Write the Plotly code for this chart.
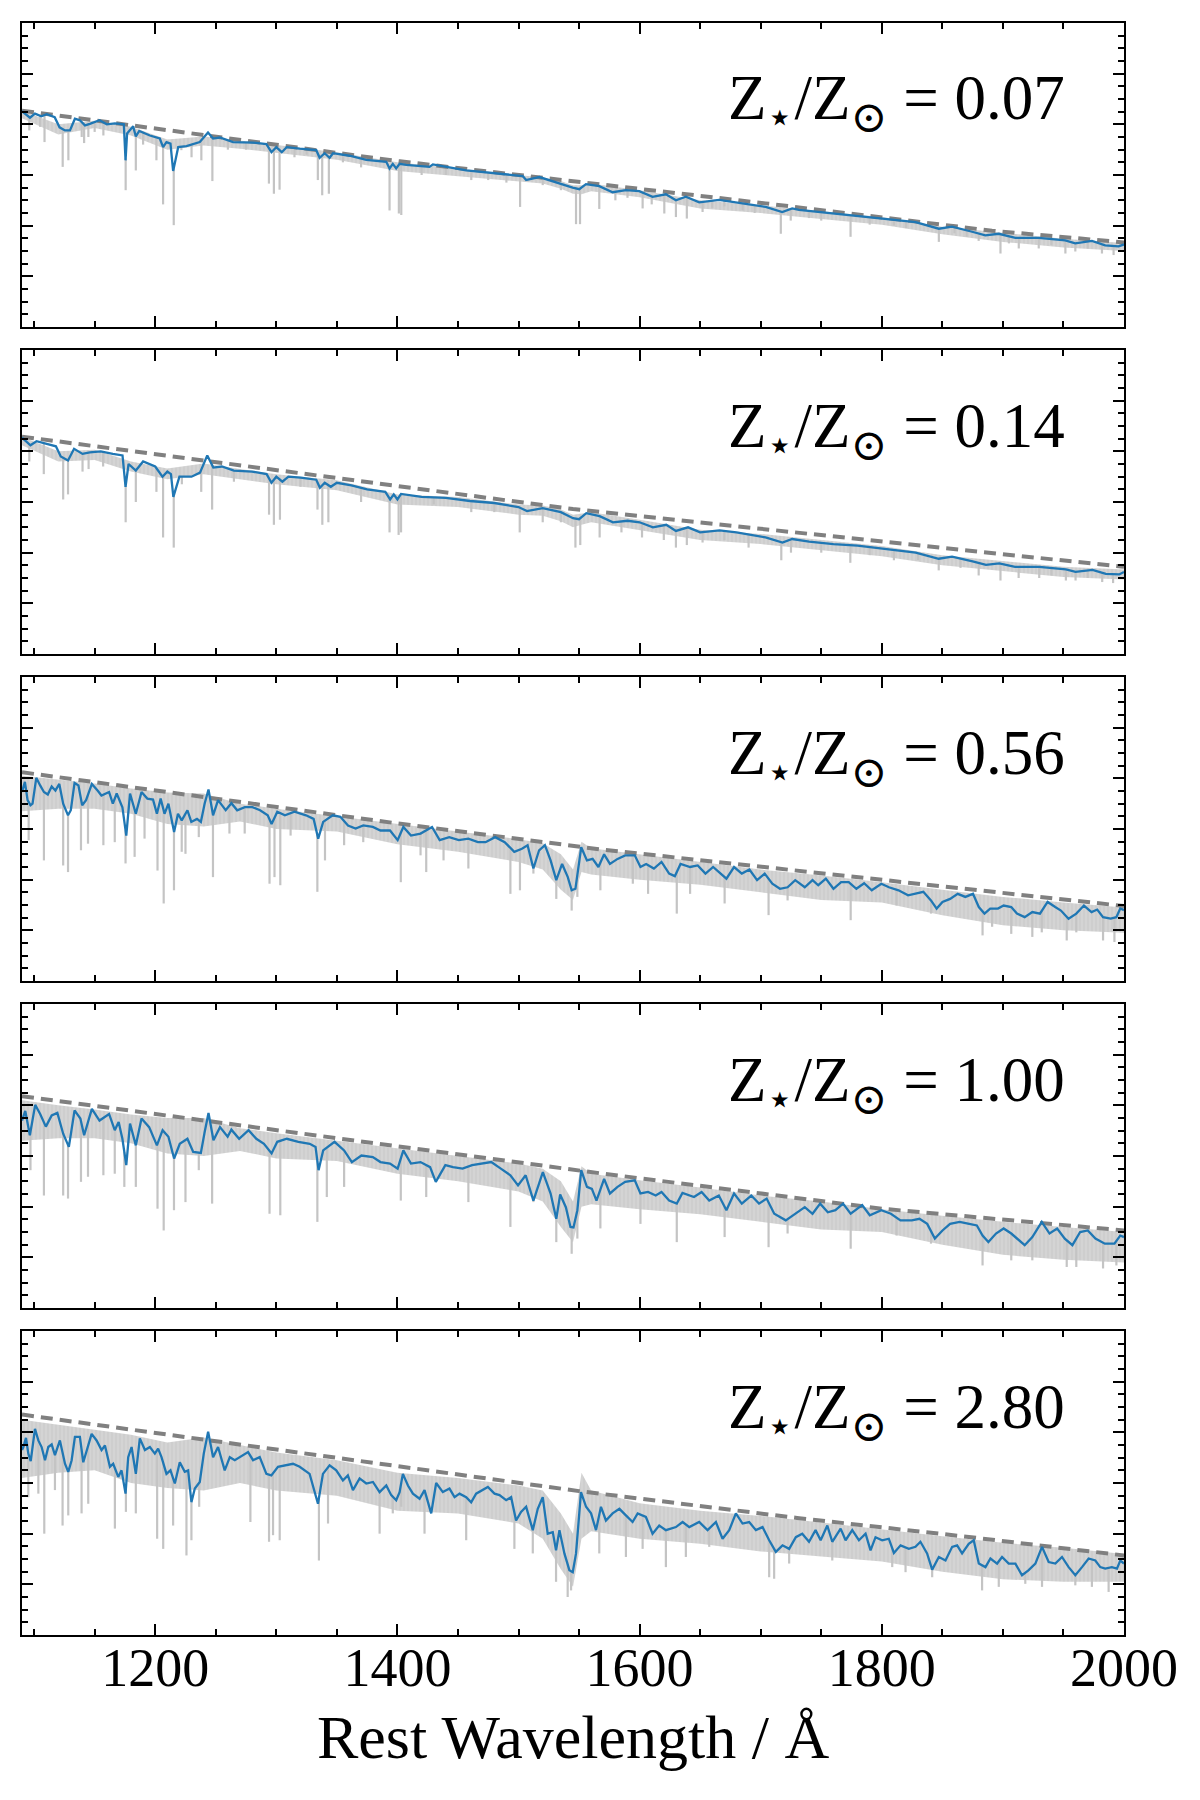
import numpy as np
import plotly.graph_objects as go

# ---------------- data ----------------
wl_range = [1090, 2000]
x_ticks = [1200, 1400, 1600, 1800, 2000]
z_labels = ["0.07", "0.14", "0.56", "1.00", "2.80"]

# smoothed spectra (wavelength [A], flux [arbitrary])
p1_blue = [(1090, 4.26), (1096.6, 4.13), (1100.7, 4.21), (1106, 4.16), (1110.4, 4.20), (1117, 4.14), (1121, 3.94),
           (1125.5, 3.88), (1129.6, 3.88), (1133.7, 4.11), (1137.8, 4.08), (1142, 3.98), (1146, 4.01), (1154, 4.08),
           (1160, 4.0), (1166.7, 4.02), (1174.1, 4.0), (1175.5, 3.29), (1176.8, 3.82), (1181.8, 3.96), (1184, 3.76),
           (1186.8, 3.87), (1195.6, 3.78), (1203.8, 3.72), (1206.5, 3.55), (1209.3, 3.65), (1212.6, 3.62),
           (1214.8, 3.08), (1216.8, 3.3), (1219, 3.55), (1225.8, 3.57), (1236.8, 3.65), (1243.6, 3.84),
           (1247.8, 3.72), (1253.3, 3.74), (1264.3, 3.65), (1280.8, 3.64), (1291.8, 3.61), (1296, 3.45), (1300, 3.55),
           (1304.5, 3.45), (1308.6, 3.55), (1319.3, 3.52), (1333, 3.49), (1335.8, 3.34), (1339.9, 3.43), (1344, 3.34),
           (1346.8, 3.43), (1360.5, 3.38), (1374.3, 3.30), (1390.8, 3.26), (1393.5, 3.13), (1396.2, 3.22),
           (1399, 3.13), (1401.8, 3.22), (1407.3, 3.20), (1426.5, 3.16), (1429.3, 3.21), (1456.8, 3.09),
           (1484.3, 3.03), (1503.5, 2.98), (1506.3, 2.90), (1517.2, 2.96), (1544.7, 2.75), (1550.2, 2.72),
           (1555.7, 2.82), (1566.7, 2.78), (1577.7, 2.66), (1588.7, 2.70), (1599.7, 2.68), (1610.7, 2.57),
           (1621.7, 2.62), (1630, 2.50), (1638.2, 2.57), (1649.2, 2.46), (1665.6, 2.51), (1676.6, 2.47),
           (1704.1, 2.37), (1717.8, 2.27), (1726, 2.34), (1731.6, 2.31), (1759.1, 2.24), (1775.6, 2.21),
           (1800.4, 2.14), (1827.9, 2.07), (1847.1, 1.94), (1858, 1.98), (1874.6, 1.88), (1885.5, 1.81),
           (1896.6, 1.84), (1910.3, 1.76), (1929.6, 1.76), (1951.5, 1.71), (1959.7, 1.65), (1973.5, 1.70),
           (1984.5, 1.61), (1995.5, 1.59), (2000, 1.63)]

p2_blue = [(1090, 4.27), (1097, 4.12), (1102, 4.2), (1110, 4.15), (1118, 4.1), (1122, 3.9), (1128, 3.82), (1133, 4.05),
           (1140, 3.95), (1146, 3.98), (1155, 4.0), (1165, 3.95), (1173, 3.92), (1175.5, 3.3), (1178, 3.75),
           (1184, 3.62), (1190, 3.8), (1200, 3.7), (1206, 3.5), (1210, 3.6), (1213, 3.55), (1215, 3.1), (1217, 3.25),
           (1220, 3.5), (1230, 3.5), (1237, 3.58), (1243, 3.92), (1248, 3.68), (1255, 3.7), (1265, 3.62), (1280, 3.6),
           (1292, 3.55), (1296, 3.38), (1300, 3.5), (1305, 3.4), (1310, 3.5), (1320, 3.48), (1333, 3.44),
           (1336, 3.28), (1340, 3.38), (1345, 3.3), (1350, 3.38), (1362, 3.33), (1375, 3.25), (1390, 3.2),
           (1394, 3.05), (1397, 3.15), (1400, 3.05), (1403, 3.16), (1420, 3.1), (1440, 3.08), (1460, 3.02),
           (1480, 2.98), (1500, 2.9), (1507, 2.82), (1520, 2.88), (1535, 2.8), (1545, 2.68), (1550, 2.66),
           (1556, 2.78), (1567, 2.72), (1578, 2.6), (1590, 2.63), (1600, 2.6), (1611, 2.5), (1622, 2.55), (1630, 2.43),
           (1640, 2.5), (1650, 2.4), (1666, 2.44), (1680, 2.4), (1704, 2.3), (1718, 2.2), (1726, 2.27), (1740, 2.22),
           (1760, 2.17), (1780, 2.14), (1800, 2.08), (1828, 2.0), (1847, 1.88), (1858, 1.92), (1875, 1.83),
           (1886, 1.76), (1897, 1.79), (1910, 1.72), (1930, 1.72), (1952, 1.67), (1960, 1.62), (1974, 1.66),
           (1985, 1.58), (1996, 1.57), (2000, 1.62)]

p3_blue = [(1090, 3.73), (1092.4, 3.93), (1094.6, 3.57), (1097, 3.47), (1098.7, 3.50), (1101.8, 4.01), (1105, 3.86),
           (1108.1, 3.73), (1111.3, 3.68), (1114.5, 3.84), (1117.6, 3.76), (1120.8, 3.89), (1124, 3.50), (1128, 3.27),
           (1130.3, 3.37), (1133.4, 3.91), (1136.6, 3.86), (1139.7, 3.47), (1142.9, 3.57), (1147.7, 3.89),
           (1152.4, 3.76), (1155.6, 3.66), (1161.9, 3.73), (1165, 3.50), (1168.2, 3.70), (1172.9, 3.43),
           (1176.1, 2.87), (1179.2, 3.70), (1184, 3.30), (1188.7, 3.73), (1193.5, 3.60), (1198.2, 3.58),
           (1201.4, 3.30), (1204.5, 3.60), (1207.7, 3.30), (1210.9, 3.50), (1215.6, 2.94), (1218.8, 3.30),
           (1221.9, 3.17), (1226.6, 3.37), (1229.8, 3.14), (1234.5, 3.20), (1237.7, 3.14), (1240.8, 3.50),
           (1244, 3.78), (1247.8, 3.27), (1251.9, 3.57), (1258.2, 3.37), (1262.9, 3.51), (1267.7, 3.37), (1274, 3.43),
           (1280.3, 3.43), (1286.6, 3.37), (1292.9, 3.27), (1296.1, 3.10), (1300.8, 3.34), (1307.1, 3.27),
           (1315, 3.34), (1324.5, 3.27), (1330.8, 3.20), (1334.6, 2.81), (1338.7, 3.14), (1346.6, 3.27),
           (1352.9, 3.24), (1359.2, 3.07), (1365.5, 3.01), (1371.8, 3.07), (1379.7, 3.04), (1386, 2.97),
           (1393.9, 2.97), (1400.2, 2.78), (1404.9, 3.04), (1411.2, 2.87), (1419.1, 2.91), (1428.6, 3.04),
           (1434.9, 2.78), (1442.8, 2.84), (1450.7, 2.78), (1458.6, 2.81), (1466.5, 2.74), (1472.8, 2.74),
           (1480.7, 2.84), (1488.6, 2.74), (1496.5, 2.55), (1502.8, 2.61), (1507.5, 2.68), (1512.3, 2.22),
           (1517, 2.58), (1521.8, 2.68), (1526.5, 2.38), (1531.2, 1.99), (1536, 2.31), (1540.7, 2.05),
           (1543.9, 1.79), (1547, 1.82), (1551.8, 2.64), (1556.5, 2.38), (1561.2, 2.41), (1566, 2.25),
           (1570.7, 2.50), (1575.5, 2.31), (1581.8, 2.41), (1588.1, 2.48), (1596, 2.48), (1600.7, 2.25),
           (1605.4, 2.31), (1611.8, 2.22), (1618.1, 2.35), (1624.4, 2.12), (1629.1, 2.07), (1633.8, 2.31),
           (1641.7, 2.25), (1648, 2.28), (1654.4, 2.12), (1660.7, 2.25), (1665.4, 2.15), (1671.7, 2.02), (1678, 2.25),
           (1684.4, 2.12), (1690.7, 2.20), (1697, 1.99), (1703.3, 2.12), (1709.6, 1.92), (1715.9, 1.82),
           (1722.2, 1.85), (1728.5, 1.99), (1736.4, 1.85), (1742.8, 1.99), (1747.5, 1.89), (1753.8, 2.02),
           (1760.1, 1.82), (1766.4, 1.95), (1772.7, 1.95), (1779, 1.82), (1785.4, 1.93), (1791.7, 1.79),
           (1799.6, 1.92), (1805.9, 1.85), (1813.8, 1.79), (1821.7, 1.69), (1828, 1.72), (1834.3, 1.76),
           (1840.6, 1.59), (1845.3, 1.43), (1850.1, 1.56), (1856.4, 1.62), (1862.7, 1.72), (1869, 1.66),
           (1875.3, 1.72), (1880.1, 1.46), (1884.8, 1.33), (1889.5, 1.43), (1895.9, 1.43), (1900.6, 1.49),
           (1906.9, 1.46), (1911.6, 1.33), (1918, 1.26), (1924.3, 1.36), (1930.6, 1.33), (1936.9, 1.56),
           (1943.2, 1.46), (1947.9, 1.39), (1954.2, 1.23), (1960.6, 1.33), (1966.9, 1.49), (1973.2, 1.36),
           (1977.9, 1.41), (1982.7, 1.26), (1989, 1.23), (1993.7, 1.26), (1996.9, 1.43), (2000, 1.40)]

p4_blue = [(1090, 3.70), (1092.7, 3.89), (1096.5, 3.41), (1100.9, 4.01), (1105, 3.83), (1109.7, 3.58), (1114.5, 3.80),
           (1119.2, 3.85), (1124, 3.44), (1128.7, 3.18), (1133.4, 3.90), (1138.2, 3.74), (1141.3, 3.41),
           (1147.7, 3.93), (1154, 3.70), (1161.9, 3.83), (1166.6, 3.51), (1169.8, 3.67), (1172.9, 3.34),
           (1176.1, 2.82), (1179.2, 3.64), (1184, 3.21), (1188.7, 3.74), (1195, 3.57), (1201.4, 3.21), (1206.1, 3.51),
           (1210.9, 3.38), (1215.6, 2.95), (1220.3, 3.24), (1226.6, 3.34), (1231.4, 3.08), (1237.7, 3.06),
           (1240.8, 3.47), (1244, 3.85), (1248.1, 3.31), (1253.5, 3.57), (1259.8, 3.38), (1262.9, 3.52),
           (1269.3, 3.34), (1277.1, 3.51), (1283.5, 3.34), (1289.8, 3.24), (1296.1, 3.05), (1300.8, 3.28),
           (1308.7, 3.34), (1318.2, 3.28), (1327.6, 3.24), (1332.4, 3.18), (1334.9, 2.72), (1338.7, 3.11),
           (1348.1, 3.28), (1356, 3.11), (1362.4, 2.88), (1370.3, 3.01), (1379.7, 2.98), (1386, 2.88),
           (1393.9, 2.85), (1400.2, 2.75), (1404.9, 3.11), (1411.2, 2.85), (1419.1, 2.88), (1427, 2.78),
           (1431.7, 2.49), (1439.6, 2.82), (1445.9, 2.78), (1453.8, 2.75), (1461.7, 2.82), (1469.6, 2.85),
           (1477.5, 2.88), (1485.4, 2.75), (1493.3, 2.62), (1499.6, 2.42), (1505.9, 2.62), (1512.3, 2.12),
           (1520.1, 2.68), (1526.5, 2.26), (1531.2, 1.76), (1534.4, 2.24), (1539.1, 1.99), (1542.9, 1.60),
           (1545.4, 1.59), (1548.6, 1.93), (1551.8, 2.72), (1556.5, 2.39), (1560.6, 2.35), (1564.4, 2.12),
           (1570.7, 2.55), (1575.5, 2.26), (1581.8, 2.39), (1588.1, 2.49), (1596, 2.52), (1600.7, 2.26),
           (1607, 2.29), (1613.3, 2.22), (1618.1, 2.29), (1624.4, 2.12), (1630.7, 2.06), (1635.4, 2.27),
           (1644.9, 2.19), (1651.2, 2.29), (1657.5, 2.12), (1665.4, 2.22), (1671.7, 1.93), (1678, 2.26),
           (1684.4, 2.06), (1692.2, 2.22), (1698.6, 2.06), (1704.9, 2.16), (1711.2, 1.86), (1720.7, 1.73),
           (1728.5, 1.86), (1736.4, 1.99), (1742.8, 1.86), (1749.1, 2.06), (1755.4, 1.89), (1761.7, 1.93),
           (1768, 2.06), (1774.3, 1.86), (1783.8, 2.03), (1790.1, 1.83), (1799.6, 1.93), (1807.5, 1.86),
           (1815.4, 1.73), (1824.8, 1.73), (1831.1, 1.76), (1837.5, 1.66), (1843.8, 1.37), (1850.1, 1.53),
           (1856.4, 1.66), (1864.3, 1.70), (1872.2, 1.66), (1878.5, 1.63), (1883.2, 1.43), (1888, 1.30),
           (1894.3, 1.47), (1900.6, 1.57), (1906.9, 1.47), (1913.2, 1.34), (1918, 1.24), (1924.3, 1.40),
           (1932.1, 1.70), (1938.5, 1.47), (1944.8, 1.57), (1951.1, 1.37), (1957.4, 1.24), (1963.8, 1.50),
           (1970.1, 1.53), (1976.4, 1.37), (1984.2, 1.27), (1992.1, 1.27), (1996.9, 1.43), (2000, 1.40)]

p5_blue = [(1090, 3.65), (1091.1, 3.71), (1093.3, 3.89), (1095.2, 3.58), (1097.2, 3.43), (1099.4, 3.78), (1100.7, 4.07),
           (1103.5, 3.84), (1106.2, 3.71), (1109, 3.45), (1111.7, 3.71), (1114.5, 3.76), (1117.2, 3.55),
           (1121.3, 3.84), (1125.5, 3.38), (1128.2, 3.22), (1131, 3.45), (1133.7, 3.91), (1137.8, 3.91),
           (1140.6, 3.41), (1143.3, 3.65), (1147.5, 3.97), (1151.6, 3.84), (1155.7, 3.65), (1158.5, 3.74),
           (1162.6, 3.32), (1165.3, 3.38), (1169.5, 3.12), (1172.2, 3.25), (1175.5, 2.79), (1177.7, 3.51),
           (1180.5, 3.71), (1184, 3.18), (1187.3, 3.88), (1191.5, 3.65), (1195.6, 3.71), (1199.7, 3.58),
           (1202.4, 3.68), (1205.2, 3.51), (1209.3, 3.18), (1212.6, 3.25), (1216.2, 2.99), (1220.3, 3.41),
           (1224.4, 3.22), (1227.2, 3.25), (1229.9, 2.62), (1232.7, 2.89), (1236.8, 3.02), (1240.1, 3.58),
           (1243.7, 4.01), (1247.8, 3.51), (1251.9, 3.71), (1257.4, 3.25), (1261.6, 3.51), (1265.7, 3.45),
           (1269.8, 3.51), (1276.7, 3.61), (1280.8, 3.45), (1286.3, 3.51), (1291.8, 3.18), (1295.9, 3.15),
           (1301.4, 3.32), (1306.9, 3.35), (1313.8, 3.38), (1319.3, 3.32), (1327.5, 3.18), (1334.4, 2.59),
           (1338.5, 3.18), (1344, 3.35), (1349.5, 3.25), (1355, 3.05), (1359.1, 3.15), (1363.3, 2.86),
           (1368.8, 3.09), (1374.3, 2.99), (1379.8, 3.02), (1385.3, 2.82), (1390.8, 2.95), (1394.9, 2.76),
           (1399, 2.66), (1401.8, 2.82), (1404.5, 3.18), (1408.7, 2.95), (1412.8, 2.79), (1418.3, 2.69),
           (1422.4, 2.86), (1427.9, 2.40), (1432, 3.0), (1437.5, 2.82), (1443, 2.89), (1447.2, 2.72), (1451.3, 2.79),
           (1456.8, 2.72), (1460.9, 2.62), (1465, 2.79), (1470.5, 2.86), (1474.7, 2.92), (1480.2, 2.79),
           (1484.3, 2.76), (1489.8, 2.66), (1493.9, 2.72), (1498, 2.26), (1502.1, 2.43), (1506.3, 2.53),
           (1511.8, 2.07), (1515.9, 2.49), (1520, 2.72), (1524.1, 2.0), (1528.3, 2.03), (1531, 1.67), (1533.8, 2.07),
           (1537.9, 1.61), (1542, 1.28), (1544.8, 1.24), (1547.5, 1.61), (1551.6, 2.82), (1555.8, 2.53),
           (1559.9, 2.40), (1564, 2.07), (1568.1, 2.53), (1572.2, 2.26), (1577.7, 2.40), (1583.3, 2.49),
           (1588.7, 2.36), (1594.2, 2.23), (1598.4, 2.40), (1605.2, 2.33), (1610.7, 2.0), (1616.2, 2.16),
           (1621.7, 2.07), (1630, 2.13), (1635.5, 2.23), (1641, 2.13), (1649.2, 2.23), (1656.1, 2.07), (1663, 2.23),
           (1668.5, 1.90), (1674, 2.07), (1679.5, 2.40), (1685, 2.20), (1690.5, 2.23), (1696, 2.07), (1701.5, 2.13),
           (1707, 1.87), (1712.5, 1.64), (1718, 1.77), (1723.5, 1.70), (1729, 1.93), (1734.3, 2.0), (1739.9, 1.84),
           (1745.3, 2.07), (1749.5, 1.87), (1755, 2.16), (1759.1, 1.84), (1766, 2.10), (1770.1, 1.87), (1775.6, 2.07),
           (1781.1, 1.87), (1786.6, 2.0), (1790.7, 1.67), (1794.8, 1.93), (1800.3, 1.87), (1805.8, 1.90),
           (1810, 1.62), (1815.5, 1.77), (1822.3, 1.70), (1827.8, 1.74), (1831.9, 1.84), (1837.4, 1.61),
           (1841.6, 1.29), (1847.1, 1.54), (1852.6, 1.47), (1858.1, 1.74), (1862.2, 1.77), (1866.3, 1.61),
           (1871.8, 1.80), (1875.9, 1.87), (1880.1, 1.41), (1885.6, 1.34), (1889.7, 1.51), (1895.2, 1.41),
           (1899.3, 1.54), (1904.8, 1.41), (1910.3, 1.41), (1915.8, 1.18), (1921.3, 1.28), (1926.8, 1.41),
           (1932.3, 1.74), (1937.8, 1.44), (1943.3, 1.41), (1948.8, 1.54), (1954.3, 1.34), (1959.8, 1.18),
           (1965.3, 1.34), (1970.8, 1.51), (1976.3, 1.47), (1980.4, 1.34), (1984.5, 1.31), (1990, 1.34),
           (1994.2, 1.31), (1996.9, 1.47), (2000, 1.41)]

# absorption-line minima of the full-resolution spectra (wavelength, flux)
p1_dips = [(1096, 3.88), (1105, 3.95), (1108.6, 3.65), (1123.6, 3.16), (1128.3, 3.29), (1139.3, 3.75), (1141.3, 3.63),
           (1144.8, 3.75), (1150, 3.85), (1157.2, 3.78), (1175.6, 2.70), (1184, 3.09), (1190, 3.6), (1201, 3.29),
           (1206.5, 2.42), (1215.3, 2.01), (1221.6, 3.49), (1230, 3.35), (1238.1, 3.29), (1247.2, 2.88), (1260, 3.5),
           (1275, 3.5), (1293.9, 2.83), (1298, 2.63), (1302.7, 2.71), (1315, 3.35), (1325, 3.4), (1334.3, 2.90),
           (1337.9, 2.60), (1343.4, 2.63), (1355, 3.25), (1370, 3.15), (1393.5, 2.30), (1401.2, 2.24),
           (1403.2, 2.21), (1420, 3.0), (1440, 3.0), (1461, 2.9), (1475, 2.9), (1490, 2.85), (1501.3, 2.37),
           (1520, 2.8), (1535, 2.7), (1547.5, 2.03), (1550.8, 2.03), (1566.7, 2.33), (1580, 2.5), (1590, 2.55),
           (1602.5, 2.34), (1610, 2.42), (1620.4, 2.24), (1630, 2.17), (1639, 2.14), (1652, 2.27), (1660, 2.35),
           (1670, 2.38), (1685, 2.3), (1695, 2.25), (1716.6, 1.84), (1724.8, 2.10), (1740, 2.15), (1750, 2.1),
           (1774.2, 1.78), (1790, 2.02), (1810, 2.0), (1820, 1.95), (1847.1, 1.68), (1860, 1.85), (1870, 1.78),
           (1880, 1.70), (1898, 1.45), (1905, 1.65), (1913.1, 1.55), (1929.6, 1.55), (1940, 1.62), (1951.6, 1.45),
           (1959.8, 1.49), (1970, 1.55), (1981.8, 1.45), (1991.4, 1.42)]

p2_dips = [(1096, 3.8), (1108, 3.55), (1124, 3.05), (1128, 3.15), (1140, 3.6), (1145, 3.65), (1157, 3.7),
           (1175.6, 2.6), (1184, 3.0), (1201, 3.2), (1206.5, 2.3), (1215.3, 2.1), (1222, 3.35), (1238, 3.2),
           (1247, 2.85), (1265, 3.4), (1294, 2.75), (1298, 2.55), (1303, 2.65), (1320, 3.3), (1334, 2.85),
           (1338, 2.55), (1343, 2.6), (1370, 3.0), (1393.5, 2.4), (1401, 2.35), (1403, 2.4), (1430, 2.95),
           (1461, 2.8), (1480, 2.8), (1501, 2.4), (1520, 2.6), (1535, 2.6), (1547, 2.1), (1551, 2.15), (1567, 2.3),
           (1585, 2.4), (1602, 2.3), (1620, 2.25), (1630, 2.1), (1639, 2.15), (1652, 2.2), (1670, 2.25),
           (1690, 2.1), (1717, 1.85), (1725, 2.0), (1750, 2.0), (1774, 1.8), (1790, 1.95), (1810, 1.85),
           (1830, 1.85), (1847, 1.65), (1865, 1.7), (1880, 1.55), (1898, 1.45), (1913, 1.5), (1930, 1.5),
           (1940, 1.55), (1952, 1.45), (1960, 1.45), (1970, 1.5), (1982, 1.42), (1991, 1.4)]

p3_dips = [(1095.5, 2.78), (1108.1, 2.38), (1124, 2.28), (1128, 2.15), (1138.7, 2.58), (1144.5, 2.71),
           (1157.2, 2.68), (1166.6, 2.74), (1175.5, 2.32), (1183, 2.45), (1191.2, 2.81), (1201.9, 2.18),
           (1207, 1.53), (1215.5, 1.79), (1221.9, 2.55), (1225, 2.51), (1236, 2.84), (1247.7, 2.05), (1261.3, 2.91),
           (1273.9, 2.91), (1294.4, 1.92), (1298.5, 2.05), (1303.3, 1.89), (1311.8, 2.87), (1333.9, 1.76),
           (1340.2, 2.38), (1356, 2.68), (1371.8, 2.74), (1402.8, 1.95), (1419.1, 2.48), (1423.8, 2.15),
           (1438.1, 2.38), (1458.6, 2.22), (1493.3, 1.72), (1501.2, 1.79), (1512.3, 2.12), (1531.2, 1.62),
           (1543.9, 1.39), (1548.6, 1.66), (1567.6, 1.79), (1594.4, 1.92), (1607, 1.72), (1630.7, 1.33),
           (1641.7, 1.72), (1670.2, 1.53), (1706.5, 1.30), (1722.2, 1.59), (1774.3, 1.20), (1812.2, 1.49),
           (1840.6, 1.33), (1883.2, 0.90), (1891.1, 1.07), (1906.9, 0.93), (1924.3, 0.87), (1932.1, 0.96),
           (1952.7, 0.80), (1960.6, 0.96), (1982.7, 0.80), (1992.1, 0.77)]

p4_dips = [(1097, 2.72), (1108.1, 2.22), (1124, 2.22), (1128, 2.16), (1138.7, 2.49), (1144.5, 2.59), (1157.2, 2.62),
           (1166.6, 2.65), (1174.5, 2.39), (1184, 2.39), (1201.9, 1.96), (1207, 1.53), (1215.5, 1.93), (1225, 2.09),
           (1236, 2.72), (1247, 2.06), (1294.4, 1.86), (1303.3, 1.83), (1333.9, 1.70), (1341.7, 2.19), (1356, 2.39),
           (1402.8, 2.12), (1423.8, 2.19), (1458.6, 2.09), (1493.3, 1.60), (1512.3, 2.09), (1531.2, 1.30),
           (1543.9, 1.07), (1548.6, 1.37), (1567.6, 1.57), (1600.7, 1.66), (1630.7, 1.30), (1670.2, 1.40),
           (1706.5, 1.20), (1722.2, 1.47), (1774.3, 1.17), (1812.2, 1.43), (1840.6, 1.27), (1883.2, 0.84),
           (1906.9, 0.94), (1924.3, 0.94), (1952.7, 0.81), (1960.6, 0.81), (1982.7, 0.78), (1993.7, 0.84)]

p5_dips = [(1095.2, 2.72), (1103.5, 2.79), (1108.4, 2.0), (1117.2, 2.86), (1123.5, 2.16), (1128.2, 2.36),
           (1139.2, 2.40), (1144.7, 2.59), (1166.7, 2.10), (1175.8, 2.43), (1184, 2.40), (1201.6, 1.90),
           (1206.6, 1.70), (1214.8, 2.16), (1225.8, 1.57), (1229.9, 1.87), (1236.3, 2.53), (1278.6, 2.23),
           (1294, 1.84), (1297.3, 1.97), (1302.8, 1.87), (1335.2, 1.47), (1342.7, 2.20), (1385.3, 2.0),
           (1396.2, 2.40), (1403.2, 2.53), (1422.4, 2.0), (1456.8, 1.87), (1496.6, 1.70), (1511.8, 1.61),
           (1531, 1.05), (1540.6, 0.75), (1543.4, 0.88), (1566.7, 1.61), (1588.7, 1.54), (1602.5, 1.70),
           (1621.7, 1.34), (1638.2, 1.54), (1657.5, 1.74), (1707, 1.14), (1711.1, 1.11), (1723.5, 1.41),
           (1759.1, 1.47), (1808.6, 1.34), (1819.6, 1.24), (1841.6, 1.14), (1882.8, 0.88), (1896.6, 0.95),
           (1918.5, 1.01), (1932.3, 0.95), (1959.8, 0.98), (1973.5, 0.95), (1987.3, 0.85)]

# envelope of the dense forest of weak lines (upper, lower) on a common wavelength grid
band_w = [1090, 1120, 1150, 1180, 1210, 1240, 1270, 1300, 1350, 1400, 1450, 1500, 1520, 1535, 1545, 1552, 1560,
          1600, 1650, 1700, 1750, 1800, 1850, 1900, 1950, 2000]
p1_band_hi = [4.27, 4.0, 4.07, 3.95, 3.7, 3.76, 3.68, 3.59, 3.45, 3.25, 3.13, 3.0, 2.95, 2.88, 2.8, 2.8, 2.83, 2.7,
              2.5, 2.4, 2.28, 2.17, 1.98, 1.86, 1.74, 1.66]
p1_band_lo = [4.12, 3.8, 3.93, 3.78, 3.5, 3.58, 3.52, 3.43, 3.3, 3.08, 2.98, 2.87, 2.83, 2.73, 2.63, 2.62, 2.68, 2.56,
              2.34, 2.25, 2.13, 2.02, 1.83, 1.68, 1.57, 1.5]
p2_band_hi = [4.29, 4.0, 4.03, 3.8, 3.66, 3.76, 3.65, 3.55, 3.43, 3.15, 3.1, 2.95, 2.93, 2.85, 2.75, 2.78, 2.8, 2.65,
              2.45, 2.37, 2.25, 2.13, 1.95, 1.83, 1.72, 1.67]
p2_band_lo = [4.12, 3.8, 3.83, 3.6, 3.45, 3.55, 3.45, 3.35, 3.23, 2.95, 2.9, 2.75, 2.73, 2.62, 2.5, 2.55, 2.6, 2.45,
              2.25, 2.17, 2.05, 1.93, 1.75, 1.63, 1.52, 1.47]
p3_band_hi = [4.05, 3.98, 3.9, 3.8, 3.72, 3.7, 3.5, 3.4, 3.25, 3.1, 2.95, 2.8, 2.72, 2.5, 2.2, 2.75, 2.62, 2.5, 2.35,
              2.2, 2.08, 1.95, 1.8, 1.66, 1.55, 1.45]
p3_band_lo = [3.35, 3.4, 3.4, 3.3, 3.1, 3.05, 3.15, 3.0, 2.95, 2.7, 2.55, 2.35, 2.2, 1.8, 1.6, 2.15, 2.1, 2.0, 1.9,
              1.75, 1.6, 1.55, 1.3, 1.1, 1.0, 0.95]
p4_band_hi = [4.1, 4.0, 3.92, 3.82, 3.75, 3.75, 3.55, 3.45, 3.3, 3.15, 3.0, 2.85, 2.75, 2.5, 2.1, 2.8, 2.65, 2.52,
              2.38, 2.22, 2.1, 1.95, 1.82, 1.7, 1.6, 1.5]
p4_band_lo = [3.3, 3.35, 3.35, 3.25, 3.05, 3.0, 3.1, 2.95, 2.9, 2.65, 2.5, 2.3, 2.1, 1.6, 1.3, 2.0, 2.05, 1.95, 1.85,
              1.7, 1.55, 1.5, 1.25, 1.05, 0.95, 0.9]
p5_band_hi = [4.25, 4.15, 4.05, 3.95, 3.8, 3.9, 3.75, 3.6, 3.45, 3.2, 3.1, 2.95, 2.85, 2.4, 2.0, 3.2, 2.85, 2.6,
              2.45, 2.35, 2.22, 2.08, 1.95, 1.82, 1.72, 1.6]
p5_band_lo = [3.1, 3.2, 3.25, 3.0, 2.9, 2.85, 3.0, 2.85, 2.75, 2.45, 2.4, 2.2, 1.9, 1.3, 0.95, 1.9, 2.05, 1.9, 1.8,
              1.65, 1.55, 1.45, 1.25, 1.1, 1.05, 1.05]

# dashed continuum
p1_cont = [(1090, 4.27), (1402, 3.27), (1704, 2.44), (1891, 1.9), (2000, 1.67)]
p2_cont = [(1090, 4.29), (1545, 2.86), (2000, 1.72)]
p3_cont = [(1090, 4.12), (1400, 3.11), (1567, 2.6), (1799, 1.99), (2000, 1.48)]
p4_cont = [(1090, 4.18), (1400, 3.18), (1567, 2.66), (1800, 1.96), (2000, 1.53)]
p5_cont = [(1090, 4.35), (1245, 3.84), (1550, 2.84), (1730, 2.31), (1870, 1.94), (2000, 1.57)]

panels = [
    dict(blue=p1_blue, dips=p1_dips, cont=p1_cont, hi=p1_band_hi, lo=p1_band_lo),
    dict(blue=p2_blue, dips=p2_dips, cont=p2_cont, hi=p2_band_hi, lo=p2_band_lo),
    dict(blue=p3_blue, dips=p3_dips, cont=p3_cont, hi=p3_band_hi, lo=p3_band_lo),
    dict(blue=p4_blue, dips=p4_dips, cont=p4_cont, hi=p4_band_hi, lo=p4_band_lo),
    dict(blue=p5_blue, dips=p5_dips, cont=p5_cont, hi=p5_band_hi, lo=p5_band_lo),
]

# ---------------- figure ----------------
W, H = 1200, 1800
ML, MR, MT, MB = 22, 76, 23, 165
PH, GAP = 304, 23
plot_h = H - MT - MB

BLUE = "#1f77b4"
LGRAY = "#c4c4c4"
DGRAY = "#808080"
SERIF = "Liberation Serif, DejaVu Serif, serif"

fig = go.Figure()
layout = {}
for k, p in enumerate(panels):
    sfx = "" if k == 0 else str(k + 1)
    xa, ya = "x" + sfx, "y" + sfx
    bw, bf = zip(*p["blue"])
    bw, bf = np.array(bw), np.array(bf)

    fig.add_trace(go.Scatter(x=band_w + band_w[::-1], y=p["hi"] + p["lo"][::-1], fill="toself",
                             fillcolor="rgba(0,0,0,0)",
                             fillpattern=dict(shape="|", fgcolor=LGRAY, bgcolor="#d9d9d9",
                                              size=4, solidity=0.75),
                             line=dict(width=0), mode="lines",
                             hoverinfo="skip", showlegend=False, xaxis=xa, yaxis=ya))
    dw, df = zip(*p["dips"])
    tops = np.interp(dw, bw, bf)
    sx, sy = [], []
    for w_, lo_, hi_ in zip(dw, df, tops):
        sx += [w_, w_, None]
        sy += [lo_, hi_, None]
    fig.add_trace(go.Scatter(x=sx, y=sy, mode="lines", line=dict(color=LGRAY, width=2.2),
                             hoverinfo="skip", showlegend=False, xaxis=xa, yaxis=ya))
    cw, cf = zip(*p["cont"])
    fig.add_trace(go.Scatter(x=cw, y=cf, mode="lines", line=dict(color=DGRAY, width=4, dash="12px,7px"),
                             showlegend=False, xaxis=xa, yaxis=ya))
    fig.add_trace(go.Scatter(x=bw, y=bf, mode="lines", line=dict(color=BLUE, width=2.3),
                             showlegend=False, xaxis=xa, yaxis=ya))

    top_px = MT + k * (PH + GAP)
    bot_px = top_px + PH
    dom = [(H - MB - bot_px) / plot_h, (H - MB - top_px) / plot_h]
    common = dict(showline=True, linecolor="black", linewidth=2, mirror="allticks", ticks="inside",
                  tickcolor="black", tickwidth=2, ticklen=11, showgrid=False, zeroline=False)
    layout["xaxis" + sfx] = dict(common, range=wl_range, anchor=ya, tickvals=x_ticks,
                                 ticktext=[str(t) for t in x_ticks], showticklabels=(k == 4),
                                 tickfont=dict(family=SERIF, size=54, color="black"),
                                 ticklabelstandoff=-16,
                                 minor=dict(ticks="inside", ticklen=6, tickwidth=1.5, tickcolor="black",
                                            tick0=1100, dtick=50),
                                 domain=[0, 1])
    if k > 0:
        layout["xaxis" + sfx]["matches"] = "x"
    layout["yaxis" + sfx] = dict(common, range=[0, 6], anchor=xa, domain=dom, tick0=0, dtick=1,
                                 showticklabels=False,
                                 minor=dict(ticks="inside", ticklen=6, tickwidth=1.5, tickcolor="black",
                                            tick0=0, dtick=0.25))

annotations = []
for k, lab in enumerate(z_labels):
    sfx = "" if k == 0 else str(k + 1)
    annotations.append(dict(text="Z<sub>\u22c6</sub>/Z<sub>\u2299</sub> = " + lab,
                            xref="x" + sfx + " domain", yref="y" + sfx + " domain",
                            x=0.948, y=1 - 80 / PH, xanchor="right", yanchor="middle", showarrow=False,
                            font=dict(family=SERIF, size=63, color="black")))
annotations.append(dict(text="Rest Wavelength / \u00c5", xref="paper", yref="paper", x=0.5,
                        y=-(1737 - (H - MB)) / plot_h, xanchor="center", yanchor="middle", showarrow=False,
                        font=dict(family=SERIF, size=62, color="black")))

fig.update_layout(width=W, height=H, margin=dict(l=ML, r=MR, t=MT, b=MB), plot_bgcolor="white",
                  paper_bgcolor="white", showlegend=False, annotations=annotations, **layout)
fig.write_html("out.html")
